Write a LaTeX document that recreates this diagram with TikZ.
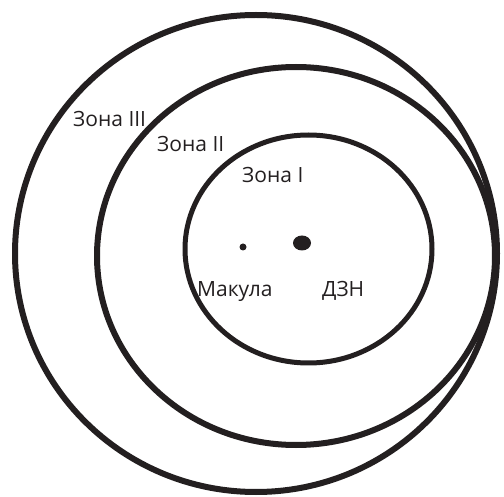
\documentclass[tikz,border=0pt]{standalone}
\usepackage{fontspec}
\setmainfont{Open Sans}
\usetikzlibrary{positioning, shapes.geometric}
\definecolor{zoneink}{RGB}{35, 31, 32}
\tikzset{
  zone/.style={draw=zoneink, line width=6pt},
  zonein/.style={zone, line width=5pt},
  lbl/.style={text=zoneink, font=\fontsize{21}{24}\selectfont, anchor=base west, inner sep=0pt},
  spot/.style={fill=zoneink, inner sep=0pt}
}

\begin{document}
\begin{tikzpicture}[x=1pt, y=-1pt]
                \useasboundingbox (0,0) rectangle (504,497);
                % zones
                \draw[zone] (256,253.5) ellipse (241pt and 238.5pt);
                \draw[zone] (296,256) ellipse (199pt and 189pt);
                \draw[zonein] (308.5,249) ellipse (123.5pt and 114pt);
                % macula and optic disc
                \node[spot, circle, minimum size=7pt] (macula) at (243,247) {};
                \node[spot, ellipse, minimum width=18pt, minimum height=15pt] (disc) at (302,243) {};
                % labels
                \node[lbl] (z3) at (73,127) {Зона III};
                \node[lbl] (z2) at (157,152) {Зона II};
                \node[lbl] (z1) at (242,183) {Зона I};
                \node[lbl] (mac) at (197,297) {Макула};
                \node[lbl] (dzn) at (322,297) {ДЗН};
            \end{tikzpicture}
\end{document}
